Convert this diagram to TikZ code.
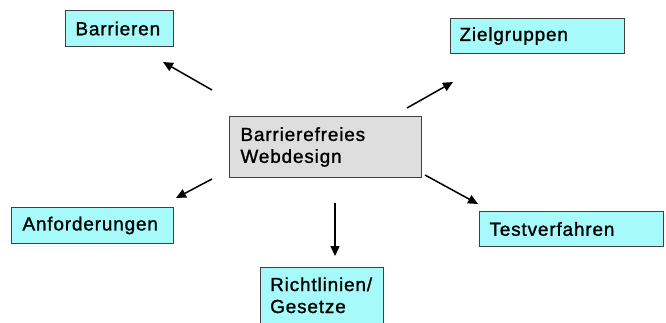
\documentclass[tikz,border=0pt]{standalone}
\usepackage{fontspec}
\setmainfont[LetterSpace=4.5,FakeBold=1.2]{Liberation Sans}
\usetikzlibrary{arrows.meta}
\definecolor{topicfill}{RGB}{166,250,250}
\definecolor{corefill}{RGB}{222,222,222}
\definecolor{edgegray}{RGB}{64,64,64}
\begin{document}
\begin{tikzpicture}[x=1bp,y=-1bp,
  box/.style={draw=edgegray,line width=1bp,rectangle,anchor=north west,
    inner sep=0pt,align=left,font=\fontsize{19}{22}\selectfont},
  topic/.style={box,fill=topicfill},
  core/.style={box,fill=corefill},
  link/.style={line width=1.5bp,-{Triangle[length=10bp,width=9bp]}}]
\clip (0,0) rectangle (666,322);
\fill[white] (0,0) rectangle (666,322);

% central topic
\node[core,minimum width=192bp,minimum height=61bp,text width=170bp]
  (core) at (229,116) {Barrierefreies\\Webdesign};

% surrounding topics
\node[topic,minimum width=108bp,minimum height=36bp,text width=88bp]
  (barr) at (65,10) {Barrieren};
\node[topic,minimum width=174bp,minimum height=35bp,text width=156bp]
  (ziel) at (450,18) {Zielgruppen};
\node[topic,minimum width=162bp,minimum height=36bp,text width=140bp]
  (anf) at (11,207) {Anforderungen};
\node[topic,minimum width=184bp,minimum height=35bp,text width=164bp]
  (test) at (479,211) {Testverfahren};
\node[topic,minimum width=123bp,minimum height=70bp] (richt) at (260,267) {};
\node[anchor=base west,inner sep=0pt,align=left,
  font=\fontsize{19}{22}\selectfont] (richttext) at (270,313)
  {Richtlinien/\\Gesetze};

% arrow ends
\coordinate (barrA) at (212,90);  \coordinate (barrB) at (163,62);
\coordinate (zielA) at (407,108); \coordinate (zielB) at (453,82);
\coordinate (anfA)  at (212,179); \coordinate (anfB)  at (176,198);
\coordinate (richtA) at (335,203); \coordinate (richtB) at (335,256);
\coordinate (testA) at (425,175); \coordinate (testB) at (478,204);

\draw[link] (barrA) -- (barrB);
\draw[link] (zielA) -- (zielB);
\draw[link] (anfA) -- (anfB);
\draw[link] (richtA) -- (richtB);
\draw[link] (testA) -- (testB);
\end{tikzpicture}
\end{document}
